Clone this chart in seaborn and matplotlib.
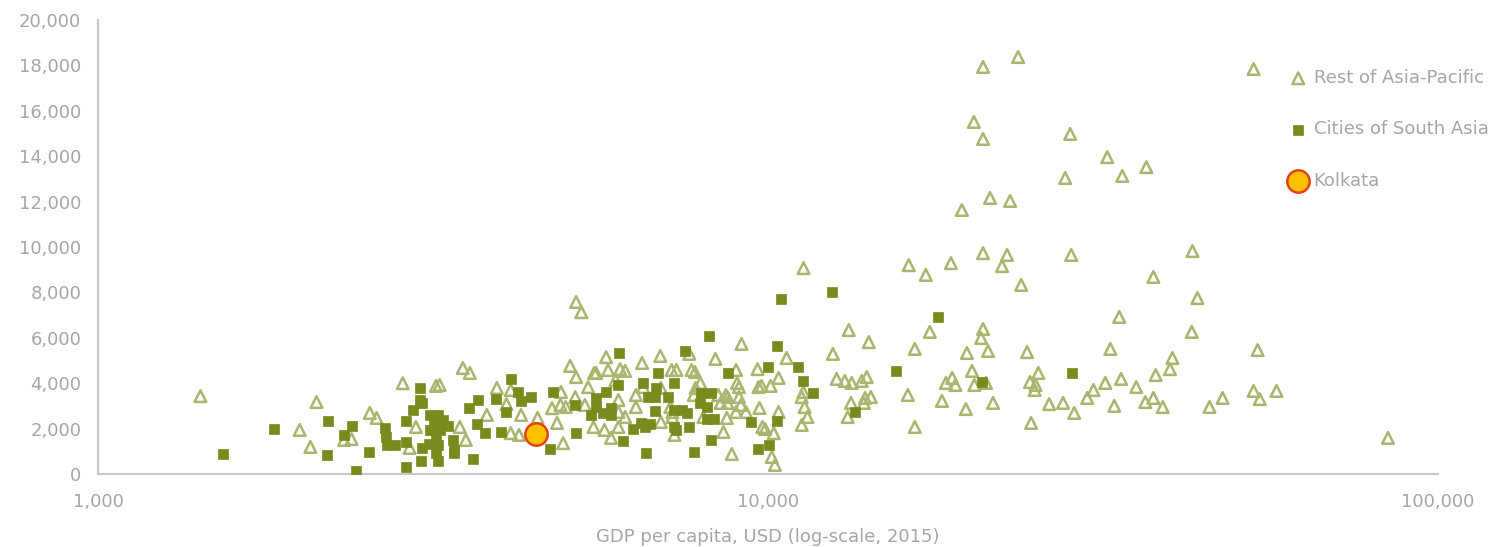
import numpy as np
import pandas as pd
import seaborn as sns
import matplotlib.pyplot as plt
from matplotlib.ticker import FuncFormatter, FixedLocator, NullLocator

# Rest of Asia-Pacific cities (GDP per capita, value)
rest_gdp = [1422, 2000, 2119, 2075, 2330, 2390, 2545, 2605, 2850, 2982, 2918,
            3195, 3235, 3504, 3589, 3467, 3540, 3805, 3938, 4130, 4070, 4280,
            4130, 4250, 5171, 5265, 5733, 6906, 6487, 5066, 5171, 5502, 5540,
            5773, 6015, 6120, 7180, 7300, 7690, 7780, 4530, 4843, 4945, 4910,
            4760, 4900, 4990, 5155, 5389, 5920, 5980, 6120, 5490, 5700, 5830,
            5980, 6350, 6350, 6920, 7200, 7250, 6510, 6920, 5330, 5980,
            13200, 14140, 12500, 16560, 16170, 16560, 7630, 9130, 8347, 10660,
            8960, 9646, 10370, 11290, 11230, 9680, 9780, 10090, 7925, 7800,
            7750, 8430, 8990, 9050, 8650, 8700, 9050, 8500, 8700, 9110, 7150,
            7200, 8010, 8680, 8960, 9270, 9710, 10370, 9810, 9900, 10200, 8580,
            8830, 10130, 10240, 11340, 11450, 11230,
            12660, 13020, 13330, 13800, 14040, 13300, 13150, 13960, 14240, 13900,
            16220, 18750, 17200, 20940, 22740, 22350, 23870, 28350, 37600, 33440,
            17440, 20940, 20800, 21300, 19810, 24360, 32430, 40140, 39810, 20160,
            18430, 18830, 19040, 20320, 21150, 18180, 19740, 21670, 24610, 25320,
            25080, 25000, 24700, 26280, 27570, 28640, 29950, 30600, 31870, 33650,
            32870, 35450, 36570, 37600, 38830, 37900, 43000, 43750, 42900, 53800,
            45600, 47700, 53060, 54200, 57400, 84200,
            20940, 23620, 53060, 20290, 20940, 28250, 32090, 36700, 27770, 33790,
            21450, 22980, 19470, 11300]
rest_val = [3430, 1940, 3170, 1190, 1500, 1540, 2690, 2470, 4000, 2070, 1150,
            3880, 3920, 4670, 4450, 2070, 1500, 2600, 3790, 3700, 3080, 2600,
            1800, 1720, 7580, 7130, 5150, 5200, 4890, 4760, 4270, 4450, 4450,
            4580, 4620, 4540, 4580, 4580, 4580, 4490, 2470, 2250, 1360, 3610,
            2900, 3040, 2950, 3390, 3830, 4140, 3260, 2510, 2070, 1940, 1590,
            2070, 3480, 2950, 2290, 2510, 1720, 3830, 3790, 3040, 2730,
            6340, 5810, 5290, 5510, 3480, 2070, 5290, 5730, 5070, 5110,
            4580, 4620, 4230, 3610, 3390, 3830, 3880, 3880, 4010, 3790,
            3480, 3480, 4010, 3830, 3480, 3390, 3390, 3130, 3130, 3040, 2950,
            2730, 2510, 2470, 2730, 2730, 2910, 2730, 2070, 1980, 1800, 1850,
            880, 750, 400, 2950, 2510, 2160,
            4190, 4100, 4010, 4100, 4270, 3130, 2510, 3350, 3390, 3130,
            9200, 9290, 8770, 9730, 9650, 9160, 8330, 9650, 8680, 6920,
            6260, 6390, 5990, 5420, 5330, 5370, 5510, 5110, 4620, 4540,
            4010, 4230, 3920, 3920, 4010, 3220, 2860, 3130, 4050, 4450,
            3920, 3700, 2250, 3080, 3130, 2690, 3350, 3700, 4010, 4190,
            3000, 3830, 3170, 3350, 2950, 4360, 9820, 7750, 6260, 5460,
            2950, 3350, 3660, 3300, 3660, 1590,
            17930, 18370, 17840, 15510, 14760, 14980, 13960, 13520, 13040, 13130,
            12160, 12030, 11630, 9070]

# Cities of South Asia
south_gdp = [1538, 1834, 2201, 2194, 2390, 2326, 2423, 2535, 2680, 2690, 2700,
             2775, 3020, 3020, 3050, 2950, 2880, 2880, 3050, 3115, 3214, 3200,
             3030, 3214, 2880, 3127, 3214, 3170, 3270, 3127, 3235, 3192, 3328,
             3385, 3400, 3400, 3627, 3577, 3690, 3925, 4130, 4060, 3676, 3778,
             3990, 4236, 4280, 4430, 4777, 4728, 5155, 5171, 5530, 5530, 5450,
             5733, 5980, 5670, 5830, 5840, 5996, 6080, 6290, 6470, 6560, 6670,
             6580, 6510, 6630, 6780, 6800, 6780, 6860, 7090, 7250, 7250, 7300,
             7230, 7430, 7560, 7527, 8175, 8730, 7925, 8120, 7940, 8230, 8120,
             8300, 7630, 8230, 7750, 9420, 10300, 9646, 10030, 9985, 10300,
             10440, 11070, 11260, 11660, 12450, 13470, 15510, 17930, 20860, 28450]
south_val = [880, 1980, 2330, 840, 2110, 1720, 130, 970, 2030, 1630, 1280,
             1280, 3790, 3260, 3130, 2820, 2330, 1410, 1150, 1320, 1280, 920,
             570, 570, 310, 2600, 2600, 2290, 2400, 1940, 1940, 1630, 2110,
             1500, 1060, 920, 660, 2910, 3260, 3300, 4190, 2730, 2200, 1800,
             1850, 3610, 3220, 3390, 3610, 1100, 3040, 1800, 3350, 2950, 2600,
             3610, 3920, 2690, 2910, 2600, 5330, 1450, 1980, 2250, 2070, 2200,
             920, 4010, 3390, 3390, 3790, 2770, 4450, 3390, 4010, 2070, 1940,
             2820, 2820, 2690, 5420, 6080, 4450, 3130, 2950, 3570, 3570, 2420,
             2420, 2070, 1500, 970, 2290, 2330, 1100, 1280, 4710, 5640,
             7710, 4710, 4100, 3570, 8020, 2730, 4540, 6920, 4050, 4450]

kolkata_gdp = [4505]
kolkata_val = [1760]

rest = pd.DataFrame({'gdp': rest_gdp, 'val': rest_val})
south = pd.DataFrame({'gdp': south_gdp, 'val': south_val})
kolkata = pd.DataFrame({'gdp': kolkata_gdp, 'val': kolkata_val})

sns.set_style('white')
plt.rcParams['font.family'] = ['DejaVu Sans']

grey = '#a6a6a6'
fig = plt.figure(figsize=(14.98, 5.47), dpi=100)
ax = fig.add_axes([98 / 1498, 1 - 474 / 547, 1340 / 1498, 454 / 547])

sns.scatterplot(data=rest, x='gdp', y='val', ax=ax, marker='^', s=70,
                facecolor='none', edgecolor='#aab56f', linewidth=1.8,
                label='Rest of Asia-Pacific', zorder=2)
sns.scatterplot(data=south, x='gdp', y='val', ax=ax, marker='s', s=62,
                color='#7b8a1c', edgecolor='#7b8a1c', linewidth=0.5,
                label='Cities of South Asia', zorder=3)
sns.scatterplot(data=kolkata, x='gdp', y='val', ax=ax, marker='o', s=260,
                color='#ffc000', edgecolor='#e0441c', linewidth=1.8,
                label='Kolkata', zorder=4)

ax.set_xscale('log')
ax.set_xlim(1000, 100000)
ax.set_ylim(0, 20000)
ax.xaxis.set_major_locator(FixedLocator([1000, 10000, 100000]))
ax.xaxis.set_minor_locator(NullLocator())
ax.set_yticks(np.arange(0, 20001, 2000))
fmt = FuncFormatter(lambda v, p: f'{int(round(v)):,}')
ax.xaxis.set_major_formatter(fmt)
ax.yaxis.set_major_formatter(fmt)
ax.tick_params(axis='both', length=0, labelsize=13, colors=grey)
ax.tick_params(axis='x', pad=14)
ax.tick_params(axis='y', pad=12)

for side in ['top', 'right']:
    ax.spines[side].set_visible(False)
for side in ['left', 'bottom']:
    ax.spines[side].set_color('#c8c8c8')
    ax.spines[side].set_linewidth(1.5)

ax.set_xlabel('GDP per capita, USD (log-scale, 2015)', fontsize=13,
              color=grey, labelpad=12)
ax.set_ylabel('')

leg = ax.legend(loc='upper left', bbox_to_anchor=(1291 / 1498, 1 - 69 / 547),
                bbox_transform=fig.transFigure, frameon=False, fontsize=13,
                handlelength=0.8, handletextpad=0.45, labelspacing=1.85,
                borderpad=0, borderaxespad=0)
for t in leg.get_texts():
    t.set_color(grey)

fig.savefig('out.png', dpi=100)
